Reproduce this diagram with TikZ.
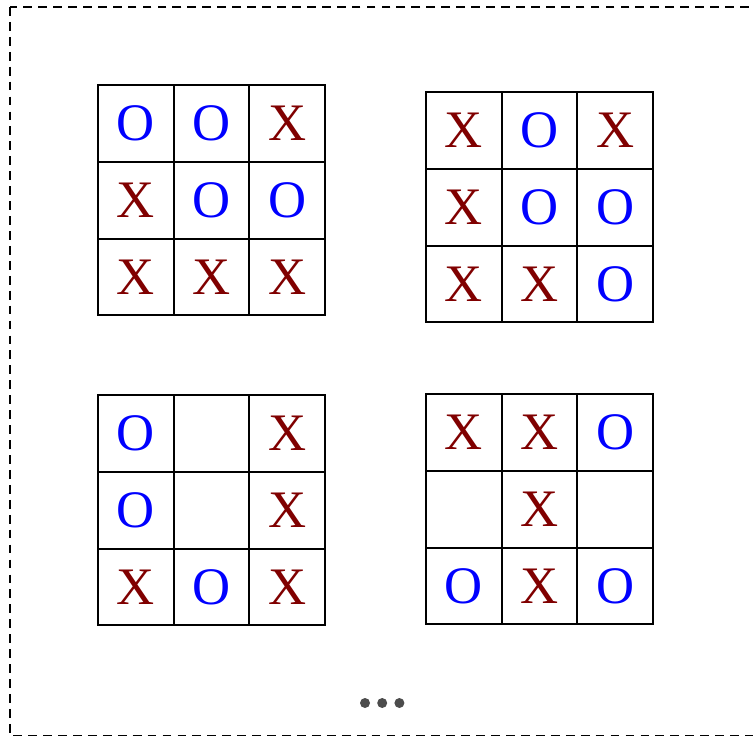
\documentclass[tikz,border=0pt]{standalone}
\usepackage{fontspec}
\setmainfont{Liberation Serif}
\usetikzlibrary{positioning}

\definecolor{xred}{RGB}{128,0,0}
\definecolor{oblue}{RGB}{0,0,255}

\tikzset{
  cell/.style={draw, line width=1.15pt, minimum width=1.514cm, minimum height=1.536cm,
    inner sep=0pt, outer sep=0pt, font=\fontsize{30}{30}\selectfont},
  cX/.style={text=xred, node contents=X},
  cO/.style={text=oblue, node contents=O},
  cE/.style={node contents={}},
  dotmark/.style={circle, fill=black!70, inner sep=0pt, minimum size=0.2cm}
}

\begin{document}
\begin{tikzpicture}[x=0.02cm, y=-0.02cm]
  \useasboundingbox (0,0) rectangle (753,736);

  % Frame
  \draw[line width=1pt, dash pattern=on 5pt off 3.5pt] (10,7) rectangle (756,735.5);

  % Boards (top-left corner, name, marks row by row)
  \foreach \bx/\by/\b/\marks in {
      98/85/a/{O,O,X,X,O,O,X,X,X},
      426/92/b/{X,O,X,X,O,O,X,X,O},
      98/395/c/{O,E,X,O,E,X,X,O,X},
      426/394/d/{X,X,O,E,X,E,O,X,O}} {
    \foreach \m [count=\i from 0] in \marks {
      \pgfmathtruncatemacro\r{int(\i/3)}
      \pgfmathtruncatemacro\c{mod(\i,3)}
      \node[cell, name=\b\i, at={(\bx+37.85+75.7*\c, \by+38.4+76.8*\r)},
        text depth=-0.07cm, c\m];
    }
  }

  % More boards
  \node[dotmark] (dot1) at (365,703) {};
  \node[dotmark, right=0.13cm of dot1] (dot2) {};
  \node[dotmark, right=0.13cm of dot2] (dot3) {};
\end{tikzpicture}
\end{document}
